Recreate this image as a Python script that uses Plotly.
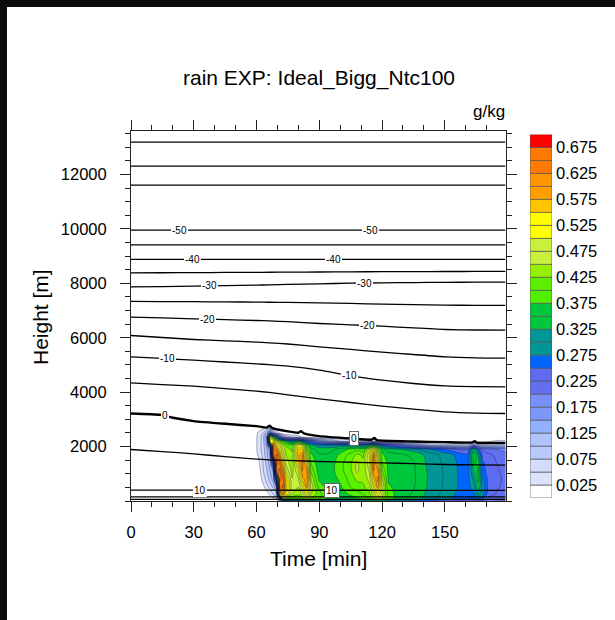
import numpy as np
import plotly.graph_objects as go

# ---------------- data: rain mixing ratio (g/kg) ----------------
rain_times = [58, 61, 63, 65, 66.5, 68, 69.5, 71, 72.5, 74, 77, 80, 82, 84, 86, 90, 95, 100,
              105, 108, 111, 114, 116, 118, 120, 123, 128, 135, 142, 150, 157, 161, 164, 166,
              168, 171, 175, 179]
rain_heights = [0, 80, 250, 500, 800, 1100, 1400, 1700, 1900, 2050, 2200, 2350, 2500, 2700]
# one vertical profile (values at rain_heights) per time in rain_times
rain_profiles = [
    [0, 0, 0, 0, 0, 0, 0, 0, 0, 0, 0, 0, 0, 0],
    [0, 0, 0, 0, 0, 0.01, 0.02, 0.03, 0.035, 0.035, 0.035, 0.035, 0.03, 0.01],
    [0, 0, 0, 0.015, 0.035, 0.045, 0.05, 0.055, 0.06, 0.06, 0.06, 0.06, 0.05, 0.015],
    [0, 0, 0.015, 0.04, 0.06, 0.075, 0.085, 0.095, 0.1, 0.11, 0.12, 0.14, 0.1, 0.02],
    [0, 0.01, 0.03, 0.06, 0.085, 0.1, 0.115, 0.13, 0.15, 0.3, 0.55, 0.5, 0.2, 0.02],
    [0, 0.02, 0.05, 0.08, 0.11, 0.13, 0.25, 0.62, 0.64, 0.62, 0.55, 0.4, 0.12, 0],
    [0, 0.03, 0.07, 0.12, 0.3, 0.63, 0.66, 0.655, 0.6, 0.55, 0.47, 0.3, 0.05, 0],
    [0.05, 0.15, 0.5, 0.62, 0.66, 0.662, 0.63, 0.58, 0.53, 0.5, 0.42, 0.2, 0.02, 0],
    [0.22, 0.45, 0.6, 0.655, 0.64, 0.6, 0.55, 0.5, 0.47, 0.45, 0.38, 0.12, 0, 0],
    [0.24, 0.42, 0.52, 0.56, 0.55, 0.5, 0.47, 0.45, 0.44, 0.42, 0.35, 0.08, 0, 0],
    [0.25, 0.4, 0.45, 0.46, 0.452, 0.44, 0.432, 0.43, 0.42, 0.4, 0.3, 0.05, 0, 0],
    [0.26, 0.4, 0.43, 0.45, 0.47, 0.5, 0.55, 0.57, 0.55, 0.5, 0.35, 0.04, 0, 0],
    [0.27, 0.42, 0.46, 0.5, 0.56, 0.6, 0.61, 0.6, 0.55, 0.48, 0.3, 0.02, 0, 0],
    [0.3, 0.45, 0.52, 0.58, 0.6, 0.58, 0.53, 0.46, 0.42, 0.38, 0.25, 0.01, 0, 0],
    [0.29, 0.42, 0.45, 0.47, 0.45, 0.42, 0.4, 0.38, 0.36, 0.33, 0.22, 0, 0, 0],
    [0.27, 0.4, 0.41, 0.39, 0.37, 0.36, 0.355, 0.352, 0.34, 0.3, 0.15, 0, 0, 0],
    [0.26, 0.36, 0.37, 0.362, 0.36, 0.362, 0.36, 0.355, 0.34, 0.3, 0.1, 0, 0, 0],
    [0.26, 0.355, 0.36, 0.37, 0.38, 0.39, 0.39, 0.38, 0.36, 0.3, 0.05, 0, 0, 0],
    [0.27, 0.36, 0.38, 0.4, 0.41, 0.42, 0.42, 0.41, 0.38, 0.3, 0.035, 0, 0, 0],
    [0.27, 0.37, 0.39, 0.41, 0.43, 0.455, 0.455, 0.43, 0.39, 0.3, 0.03, 0, 0, 0],
    [0.28, 0.38, 0.4, 0.42, 0.43, 0.432, 0.43, 0.42, 0.38, 0.29, 0.03, 0, 0, 0],
    [0.3, 0.4, 0.42, 0.44, 0.46, 0.48, 0.5, 0.5, 0.46, 0.33, 0.04, 0, 0, 0],
    [0.32, 0.43, 0.46, 0.5, 0.55, 0.6, 0.61, 0.6, 0.55, 0.36, 0.05, 0, 0, 0],
    [0.34, 0.46, 0.52, 0.58, 0.61, 0.58, 0.53, 0.47, 0.42, 0.3, 0.03, 0, 0, 0],
    [0.32, 0.43, 0.47, 0.48, 0.46, 0.43, 0.4, 0.38, 0.36, 0.27, 0.01, 0, 0, 0],
    [0.28, 0.39, 0.39, 0.38, 0.37, 0.368, 0.368, 0.36, 0.34, 0.24, 0, 0, 0, 0],
    [0.26, 0.36, 0.362, 0.364, 0.365, 0.364, 0.36, 0.355, 0.33, 0.2, 0, 0, 0, 0],
    [0.25, 0.34, 0.347, 0.352, 0.354, 0.354, 0.352, 0.345, 0.31, 0.14, 0, 0, 0, 0],
    [0.24, 0.31, 0.318, 0.322, 0.323, 0.322, 0.32, 0.315, 0.28, 0.08, 0, 0, 0, 0],
    [0.23, 0.285, 0.292, 0.296, 0.297, 0.297, 0.295, 0.29, 0.25, 0.06, 0.01, 0, 0, 0],
    [0.22, 0.262, 0.268, 0.272, 0.272, 0.272, 0.27, 0.265, 0.22, 0.06, 0.015, 0, 0, 0],
    [0.21, 0.255, 0.26, 0.264, 0.265, 0.264, 0.262, 0.258, 0.22, 0.06, 0.015, 0, 0, 0],
    [0.2, 0.255, 0.27, 0.29, 0.31, 0.33, 0.355, 0.37, 0.34, 0.15, 0.02, 0, 0, 0],
    [0.21, 0.27, 0.31, 0.34, 0.36, 0.36, 0.34, 0.31, 0.26, 0.08, 0.015, 0, 0, 0],
    [0.19, 0.255, 0.285, 0.295, 0.28, 0.262, 0.255, 0.24, 0.22, 0.06, 0.015, 0, 0, 0],
    [0.18, 0.22, 0.235, 0.24, 0.24, 0.238, 0.235, 0.23, 0.21, 0.07, 0.02, 0, 0, 0],
    [0.17, 0.21, 0.222, 0.228, 0.23, 0.228, 0.224, 0.22, 0.2, 0.08, 0.03, 0, 0, 0],
    [0.16, 0.2, 0.212, 0.218, 0.22, 0.218, 0.214, 0.21, 0.19, 0.09, 0.03, 0, 0, 0],
]
rain_levels = [0.025, 0.05, 0.075, 0.1, 0.125, 0.15, 0.175, 0.2, 0.225, 0.25, 0.275, 0.3,
               0.325, 0.35, 0.375, 0.4, 0.425, 0.45, 0.475, 0.5, 0.525, 0.55, 0.575, 0.6,
               0.625, 0.65, 0.675]
rain_colors = ['#ffffff', '#dae2fc', '#d3dcfc', '#b8c9fc', '#b0c3fc', '#93b0fc', '#7c96fa',
               '#7890f8', '#6270f0', '#5e6cf0', '#0064ff', '#009696', '#009696', '#00c83c',
               '#00c83c', '#50f000', '#5af000', '#96f000', '#c8f03c', '#c8f03c', '#ffff00',
               '#ffff00', '#ffc400', '#ff9e00', '#ff9600', '#ff7a00', '#ff7800', '#ff0000']
cbar_labels = ['0.025', '0.075', '0.125', '0.175', '0.225', '0.275', '0.325', '0.375',
               '0.425', '0.475', '0.525', '0.575', '0.625', '0.675']
cbar_label_vals = [0.025, 0.075, 0.125, 0.175, 0.225, 0.275, 0.325, 0.375, 0.425, 0.475,
                   0.525, 0.575, 0.625, 0.675]

# ---------------- data: temperature isotherms (deg C), heights in m ----------------
iso_times = [0, 15, 30, 45, 60, 66, 75, 90, 105, 120, 135, 150, 165, 179]
iso_levels = [-65, -60, -55, -50, -45, -40, -35, -30, -25, -20, -15, -10, -5, 5, 10, 15, 20]
iso_heights = [
    [13190] * 14,
    [12308] * 14,
    [11610] * 14,
    [9956] * 14,
    [9417] * 14,
    [8878] * 14,
    [8388, 8390, 8395, 8400, 8405, 8408, 8412, 8418, 8424, 8430, 8433, 8435, 8437, 8437],
    [7873, 7880, 7895, 7915, 7934, 7945, 7960, 7983, 8005, 8020, 8030, 8038, 8042, 8044],
    [7334, 7330, 7325, 7318, 7309, 7305, 7298, 7285, 7262, 7236, 7215, 7200, 7190, 7187],
    [6758, 6728, 6697, 6666, 6635, 6620, 6590, 6525, 6475, 6427, 6360, 6304, 6285, 6280],
    [6084, 6010, 5937, 5888, 5839, 5815, 5770, 5667, 5570, 5471, 5385, 5300, 5262, 5251],
    [5300, 5240, 5177, 5110, 5042, 5010, 4956, 4809, 4600, 4442, 4319, 4234, 4205, 4197],
    [4344, 4280, 4221, 4130, 4037, 3990, 3900, 3756, 3620, 3486, 3380, 3278, 3230, 3217],
    [1893, 1815, 1734, 1630, 1540, 1515, 1490, 1452, 1425, 1403, 1372, 1342, 1325, 1317],
    [400, 400, 400, 399, 398, 397, 396, 395, 395, 394, 394, 393, 393, 393],
    [150] * 14,
    [60] * 14,
]
zero_times = [0, 14, 20, 30, 45, 60, 65, 66.3, 67.5, 75, 80, 81.2, 82.5, 90, 105, 115, 116.3,
              117.5, 135, 150, 163, 164.3, 165.5, 179]
zero_heights = [3217, 3168, 3058, 2935, 2837, 2751, 2700, 2770, 2680, 2560, 2510, 2570, 2490,
                2383, 2298, 2255, 2320, 2235, 2187, 2163, 2148, 2200, 2140, 2138]

label_levels = [-50, -50, -40, -40, -30, -30, -20, -20, -10, -10, 0, 0, 10, 10]
label_times = [23.3, 114.6, 29.3, 96.7, 37.3, 111.5, 36.4, 113.0, 17.4, 104.3, 16.1, 106.7, 32.8, 96.0]
label_boxed = [False] * 11 + [True, False, True]

x_ticks = [0, 30, 60, 90, 120, 150]
x_tick_text = ['0', '30', '60', '90', '120', '150']
y_ticks = [2000, 4000, 6000, 8000, 10000, 12000]
y_tick_text = ['2000', '4000', '6000', '8000', '10000', '12000']

# ---------------- layout geometry ----------------
W, H = 615, 620
ML, MR, MT, MB = 131, 15, 131, 119
PW, PH = W - ML - MR, H - MT - MB


def px_x(p):
    return (p - ML) / PW


def px_y(p):
    return (H - MB - p) / PH


FONT = "Liberation Sans, Arial, Helvetica, sans-serif"

# discrete colorscale (one bin per filled band)
nb = len(rain_colors)
cscale = []
for j, c in enumerate(rain_colors):
    cscale.append([j / nb, c])
    cscale.append([(j + 1) / nb, c])

fig = go.Figure()

fig.add_trace(go.Contour(
    x=rain_times, y=rain_heights, z=np.array(rain_profiles).T,
    autocontour=False,
    contours=dict(start=rain_levels[0], end=rain_levels[-1], size=0.025,
                  coloring='fill', showlines=True),
    colorscale=cscale, showscale=False,
    line=dict(color='rgba(15,15,60,0.55)', width=0.6, smoothing=1.0),
    hoverinfo='skip',
))

for lev, hts in zip(iso_levels, iso_heights):
    fig.add_trace(go.Scatter(x=iso_times, y=hts, mode='lines',
                             line=dict(color='black', width=1.3, shape='spline', smoothing=0.6),
                             hoverinfo='skip', showlegend=False))
fig.add_trace(go.Scatter(x=zero_times, y=zero_heights, mode='lines',
                         line=dict(color='black', width=2.4, shape='spline', smoothing=0.4),
                         hoverinfo='skip', showlegend=False))

# colorbar drawn as stacked boxes
box_lo = [0.0] + rain_levels
box_h = [0.025] * len(box_lo)
fig.add_trace(go.Bar(x=[0] * len(box_lo), y=box_h, base=box_lo, width=1,
                     marker=dict(color=rain_colors, line=dict(color='#555', width=0.7)),
                     xaxis='x2', yaxis='y2', hoverinfo='skip', showlegend=False))

annotations = []
for lev, t, boxed in zip(label_levels, label_times, label_boxed):
    if lev == 0:
        yv = float(np.interp(t, zero_times, zero_heights))
    else:
        yv = float(np.interp(t, iso_times, iso_heights[iso_levels.index(lev)]))
    annotations.append(dict(x=t, y=yv, xref='x', yref='y', text=str(lev), showarrow=False,
                            font=dict(size=10, color='black', family=FONT),
                            bgcolor='white', borderpad=1,
                            bordercolor='#666' if boxed else 'rgba(0,0,0,0)',
                            borderwidth=1 if boxed else 0))

annotations += [
    dict(x=px_x(318.5), y=px_y(78), xref='paper', yref='paper', text='rain EXP: Ideal_Bigg_Ntc100',
         showarrow=False, font=dict(size=21, color='black', family=FONT), xanchor='center', yanchor='middle'),
    dict(x=px_x(506.5), y=px_y(111), xref='paper', yref='paper', text='g/kg', showarrow=False,
         font=dict(size=17, color='black', family=FONT), xanchor='right', yanchor='middle'),
    dict(x=px_x(318.5), y=px_y(558), xref='paper', yref='paper', text='Time [min]', showarrow=False,
         font=dict(size=21, color='black', family=FONT), xanchor='center', yanchor='middle'),
    dict(x=px_x(40), y=px_y(317), xref='paper', yref='paper', text='Height [m]', showarrow=False,
         textangle=-90, font=dict(size=21, color='black', family=FONT), xanchor='center', yanchor='middle'),
]

# white page inside a dark frame on the top and left edges
shapes = [
    dict(type='rect', xref='paper', yref='paper', x0=px_x(7), x1=px_x(W + 5), y0=px_y(H + 5), y1=px_y(7),
         fillcolor='white', line=dict(width=0), layer='below'),
]

axis_common = dict(showgrid=False, zeroline=False, showline=True, mirror='ticks',
                   linecolor='#222', linewidth=1, ticks='outside', ticklen=10, tickwidth=1,
                   tickcolor='#222', tickfont=dict(size=16.5, color='black', family=FONT))

fig.update_layout(
    width=W, height=H, margin=dict(l=ML, r=MR, t=MT, b=MB, pad=0),
    paper_bgcolor='#0b0b0b', plot_bgcolor='white', showlegend=False,
    xaxis=dict(domain=[0, px_x(505.5)], range=[0, 179], tickvals=x_ticks, ticktext=x_tick_text,
               minor=dict(tickmode='linear', tick0=0, dtick=10, ticklen=5, ticks='outside',
                          tickcolor='#222', tickwidth=1),
               ticklabelstandoff=6, **axis_common),
    yaxis=dict(domain=[0, 1], range=[0, 13600], tickvals=y_ticks, ticktext=y_tick_text,
               minor=dict(tickmode='linear', tick0=0, dtick=500, ticklen=5, ticks='outside',
                          tickcolor='#222', tickwidth=1),
               ticklabelstandoff=10, **axis_common),
    xaxis2=dict(domain=[px_x(530), px_x(552)], anchor='y2', range=[-0.5, 0.5], visible=False),
    yaxis2=dict(domain=[px_y(498), px_y(134.5)], anchor='x2', side='right', range=[0, 0.7],
                tickvals=cbar_label_vals, ticktext=cbar_labels, ticks='', showline=False,
                showgrid=False, zeroline=False, ticklabelstandoff=3,
                tickfont=dict(size=16.5, color='black', family=FONT)),
    annotations=annotations, shapes=shapes,
)

fig.write_html("out.html",
               post_script="document.body.style.margin='0';"
                           "document.body.style.background='#0b0b0b';"
                           "document.documentElement.style.background='#0b0b0b';")
